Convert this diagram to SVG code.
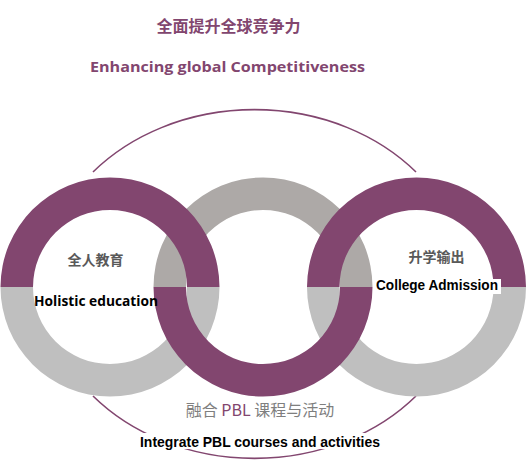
<svg xmlns="http://www.w3.org/2000/svg" width="527" height="467" viewBox="0 0 527 467">
<style>
.pur{fill:#82466F}
.gry{fill:#BFBFBF}
.gry2{fill:#ADA9A7}
.arc{fill:none;stroke:#82466F;stroke-width:1.6}
.cn{font-family:"Noto Sans CJK SC","Liberation Sans",sans-serif}
.en{font-family:"Liberation Sans",Arial,sans-serif;font-weight:bold}
.os{font-family:"Open Sans","Liberation Sans",sans-serif;font-weight:bold}
.lab{font-size:14px;font-weight:bold;fill:#595959;text-anchor:middle}
.eng{font-size:14px;fill:#000;text-anchor:middle}
</style>
<rect width="527" height="467" fill="#fff"/>
<g id="connectors">
<path class="arc" d="M93 172 A212 177 0 0 1 416 172"/>
<path class="arc" d="M93 396 A212 177 0 0 0 416 396"/>
</g>
<g id="title">
<text class="cn" x="228.5" y="32" font-size="16" font-weight="bold" fill="#82466F" text-anchor="middle">全面提升全球竞争力</text>
<text class="os" x="227.5" y="72" font-size="15" fill="#82466F" text-anchor="middle" textLength="275" lengthAdjust="spacingAndGlyphs">Enhancing global Competitiveness</text>
</g>
<g id="rings-gray">
<path class="gry" d="M0.5 287 A109.5 109.5 0 0 0 219.5 287 L187 287 A77 77 0 0 1 33 287 Z"/>
<path class="gry2" d="M153.5 287 A109.5 109.5 0 0 1 372.5 287 L340 287 A77 77 0 0 0 186 287 Z"/>
<path class="gry" d="M307 287 A109.5 109.5 0 0 0 526 287 L493.5 287 A77 77 0 0 1 339.5 287 Z"/>
</g>
<g id="rings-purple">
<path class="pur" d="M0.5 287 A109.5 109.5 0 0 1 219.5 287 L187 287 A77 77 0 0 0 33 287 Z"/>
<path class="pur" d="M153.5 287 A109.5 109.5 0 0 0 372.5 287 L340 287 A77 77 0 0 1 186 287 Z"/>
<path class="pur" d="M307 287 A109.5 109.5 0 0 1 526 287 L493.5 287 A77 77 0 0 0 339.5 287 Z"/>
</g>
<g id="node-holistic">
<text class="cn lab" x="95.5" y="265">全人教育</text>
<text class="os eng" x="96" y="306" font-size="15" textLength="124" lengthAdjust="spacingAndGlyphs">Holistic education</text>
</g>
<g id="node-college">
<text class="cn lab" x="436.5" y="261.5">升学输出</text>
<rect x="374" y="279" width="127" height="15" fill="#fff"/>
<text class="en eng" x="437" y="290" textLength="122" lengthAdjust="spacingAndGlyphs">College Admission</text>
</g>
<g id="node-pbl">
<text class="cn" x="260" y="416" font-size="16" fill="#7F7F7F" text-anchor="middle">融合 <tspan fill="#82466F">PBL</tspan> 课程与活动</text>
<rect x="139" y="433" width="242" height="16" fill="#fff"/>
<text class="en eng" x="260" y="447" textLength="240" lengthAdjust="spacingAndGlyphs">Integrate PBL courses and activities</text>
</g>
</svg>
